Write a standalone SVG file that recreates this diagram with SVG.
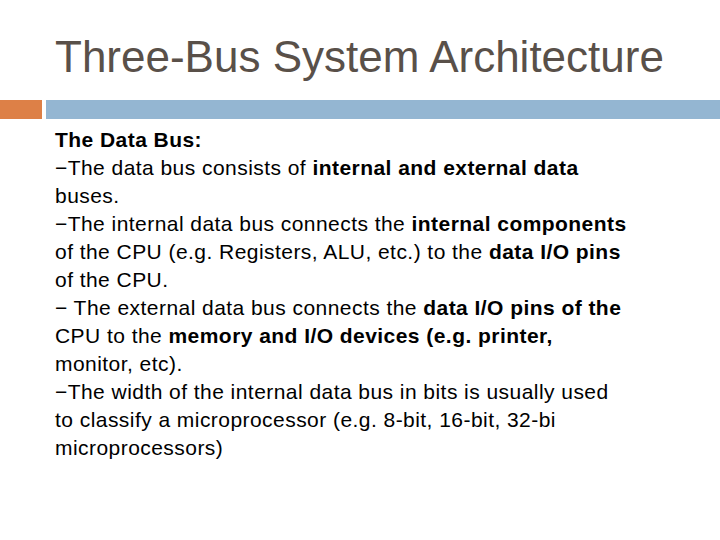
<svg xmlns="http://www.w3.org/2000/svg" width="720" height="540" viewBox="0 0 720 540">
<style>
.t{font-family:"Liberation Sans",Arial,sans-serif;font-size:21px;letter-spacing:0.45px;fill:#000}
.b{font-weight:bold}
</style>
<rect width="720" height="540" fill="#fff"/>
<text x="55" y="72" font-family="Liberation Sans,Arial,sans-serif" font-size="44" fill="#595049">Three-Bus System Architecture</text>
<rect x="0" y="100" width="42" height="19" fill="#dd8047"/>
<rect x="46" y="100" width="674" height="19" fill="#94b6d2"/>
<g class="t">
<text x="55" y="147" class="b">The Data Bus:</text>
<text x="55" y="175">−The data bus consists of <tspan class="b">internal and external data</tspan></text>
<text x="55" y="203">buses.</text>
<text x="55" y="231">−The internal data bus connects the <tspan class="b">internal components</tspan></text>
<text x="55" y="259">of the CPU (e.g. Registers, ALU, etc.) to the <tspan class="b">data I/O pins</tspan></text>
<text x="55" y="287">of the CPU.</text>
<text x="55" y="315">− The external data bus connects the <tspan class="b">data I/O pins of the</tspan></text>
<text x="55" y="343">CPU to the <tspan class="b">memory and I/O devices (e.g. printer,</tspan></text>
<text x="55" y="371">monitor, etc).</text>
<text x="55" y="399">−The width of the internal data bus in bits is usually used</text>
<text x="55" y="427">to classify a microprocessor (e.g. 8-bit, 16-bit, 32-bi</text>
<text x="55" y="455">microprocessors)</text>
</g>
</svg>
